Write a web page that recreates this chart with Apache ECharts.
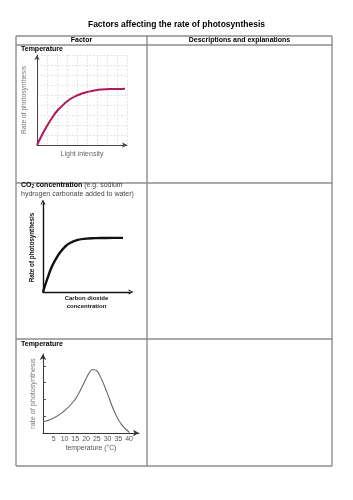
<!DOCTYPE html>
<html>
<head>
<meta charset="utf-8">
<script src="https://cdn.jsdelivr.net/npm/echarts@6/dist/echarts.min.js"></script>
<style>
  html, body { margin: 0; background: #fff; }
  #chart { width: 353px; height: 500px; }
</style>
</head>
<body>
<div id="chart"></div>
<script>
// light intensity panel (grid units, 9 cells each way)
const lightX = [0, 0.5, 1, 1.5, 2, 2.5, 3, 3.5, 4, 4.5, 5, 5.5, 6, 6.5, 7, 7.5, 8, 8.8];
const lightRate = [0, 1.0, 1.9, 2.7, 3.4, 3.9, 4.35, 4.7, 4.95, 5.15, 5.3, 5.4, 5.5, 5.55, 5.58, 5.6, 5.6, 5.62];

// CO2 panel
const co2X = [0, 0.5, 1, 1.5, 2, 2.5, 3, 4, 5, 6, 7, 8, 9.2];
const co2Rate = [0, 1.5, 2.8, 3.75, 4.5, 5.05, 5.45, 5.85, 6.0, 6.05, 6.07, 6.08, 6.08];

// temperature panel (x in °C)
const tempX = [0, 4.8, 9.5, 14.1, 17, 19.5, 21.5, 23.2, 25, 27, 29.6, 33.5, 36.6, 40.2];
const tempRate = [0.67, 0.88, 1.27, 1.86, 2.45, 3.1, 3.58, 3.78, 3.7, 3.25, 2.46, 1.17, 0.48, 0.03];
const tempTicks = [5, 10, 15, 20, 25, 30, 35, 40];
const tempYTicks = [1, 2, 3, 4];

const FONT = '"Liberation Sans", Arial, sans-serif';
const zip = (xs, ys) => xs.map((x, i) => [x, ys[i]]);

const chart = echarts.init(document.getElementById('chart'));

// table frame
const borderColor = '#8c8c8c';
function hline(y) {
  return { type: 'line', shape: { x1: 16, y1: y, x2: 332, y2: y }, style: { stroke: borderColor, lineWidth: 1.4 } };
}
function vline(x) {
  return { type: 'line', shape: { x1: x, y1: 36, x2: x, y2: 466 }, style: { stroke: borderColor, lineWidth: 1.4 } };
}
function label(text, x, y, opts) {
  return {
    type: 'text', x: x, y: y,
    style: Object.assign({
      text: text, fill: '#000', font: 'bold 7px ' + FONT,
      textAlign: 'left', textVerticalAlign: 'middle'
    }, opts || {})
  };
}

const chevron = 'path://M0,10 L5,0 L10,10 L8,10 L5,4 L2,10 Z';

chart.setOption({
  animation: false,
  graphic: [
    hline(36), hline(45), hline(183), hline(339), hline(466),
    vline(16), vline(147), vline(332),
    label('Factors affecting the rate of photosynthesis', 176.5, 25, { font: 'bold 8.5px ' + FONT, textAlign: 'center' }),
    label('Factor', 81.5, 40.5, { textAlign: 'center' }),
    label('Descriptions and explanations', 239.5, 40.5, { textAlign: 'center' }),
    label('Temperature', 21, 49.5),
    {
      type: 'text', x: 21, y: 185,
      style: {
        text: '{b|CO}{s|2}{b| concentration} (e.g. sodium',
        font: '7px ' + FONT, fill: '#444', textAlign: 'left', textVerticalAlign: 'middle',
        rich: {
          b: { font: 'bold 7px ' + FONT, fill: '#000' },
          s: { font: 'bold 4.5px ' + FONT, fill: '#000', padding: [3, 0, 0, 0] }
        }
      }
    },
    label('hydrogen carbonate added to water)', 21, 194.3, { font: '7px ' + FONT, fill: '#444' }),
    label('Temperature', 21, 344)
  ],
  grid: [
    { left: 37, top: 55, width: 90, height: 90, outerBoundsMode: 'none' },
    { left: 43, top: 203, width: 87, height: 89, outerBoundsMode: 'none' },
    { left: 43, top: 354, width: 96, height: 79, outerBoundsMode: 'none' }
  ],
  xAxis: [
    {
      gridIndex: 0, type: 'value', min: 0, max: 9, interval: 1,
      axisLine: { lineStyle: { color: '#444', width: 1 }, symbol: ['none', 'arrow'], symbolSize: [4, 5] },
      axisTick: { show: false }, axisLabel: { show: false },
      splitLine: { show: true, lineStyle: { color: '#dcdcdc', type: [2, 1.5], width: 0.8 } },
      name: 'Light intensity', nameLocation: 'middle', nameGap: 6,
      nameTextStyle: { fontFamily: FONT, fontSize: 7, color: '#666', verticalAlign: 'top' }
    },
    {
      gridIndex: 1, type: 'value', min: 0, max: 10,
      axisLine: { lineStyle: { color: '#111', width: 1.4 }, symbol: ['none', chevron], symbolSize: [8, 5], symbolOffset: [0, 1] },
      axisTick: { show: false }, axisLabel: { show: false }, splitLine: { show: false },
      name: 'Carbon dioxide\nconcentration', nameLocation: 'middle', nameGap: 3,
      nameTextStyle: { fontFamily: FONT, fontSize: 6, fontWeight: 'bold', color: '#111', lineHeight: 7.5, verticalAlign: 'top' }
    },
    {
      gridIndex: 2, type: 'value', min: 0, max: 44.6,
      axisLine: { lineStyle: { color: '#333', width: 1 }, symbol: ['none', 'arrow'], symbolSize: [5, 6] },
      axisTick: { show: false },
      axisLabel: { customValues: tempTicks, fontFamily: FONT, fontSize: 7, color: '#555', margin: 3 },
      splitLine: { show: false },
      name: 'temperature (°C)', nameLocation: 'middle', nameGap: 12,
      nameTextStyle: { fontFamily: FONT, fontSize: 6.8, color: '#555', verticalAlign: 'top' }
    }
  ],
  yAxis: [
    {
      gridIndex: 0, type: 'value', min: 0, max: 9, interval: 1,
      axisLine: { show: true, lineStyle: { color: '#444', width: 1 }, symbol: ['none', 'arrow'], symbolSize: [4, 5] },
      axisTick: { show: false }, axisLabel: { show: false },
      splitLine: { show: true, lineStyle: { color: '#dcdcdc', type: [2, 1.5], width: 0.8 } },
      name: 'Rate of photosynthesis', nameLocation: 'middle', nameGap: 9,
      nameTextStyle: { fontFamily: FONT, fontSize: 6.7, color: '#777' }
    },
    {
      gridIndex: 1, type: 'value', min: 0, max: 10,
      axisLine: { show: true, lineStyle: { color: '#111', width: 1.4 }, symbol: ['none', chevron], symbolSize: [8, 5], symbolOffset: [0, 1] },
      axisTick: { show: false }, axisLabel: { show: false }, splitLine: { show: false },
      name: 'Rate of photosynthesis', nameLocation: 'middle', nameGap: 8,
      nameTextStyle: { fontFamily: FONT, fontSize: 6.3, fontWeight: 'bold', color: '#111' }
    },
    {
      gridIndex: 2, type: 'value', min: 0, max: 4.7,
      axisLine: { show: true, lineStyle: { color: '#333', width: 1 }, symbol: ['none', 'arrow'], symbolSize: [5, 6] },
      axisTick: { show: true, inside: true, length: 3, customValues: tempYTicks, lineStyle: { color: '#555' } },
      axisLabel: { show: false }, splitLine: { show: false },
      name: 'rate of photosynthesis', nameLocation: 'middle', nameGap: 6,
      nameTextStyle: { fontFamily: FONT, fontSize: 7.2, color: '#777' }
    }
  ],
  series: [
    {
      type: 'line', xAxisIndex: 0, yAxisIndex: 0, smooth: true, showSymbol: false,
      lineStyle: { color: '#b0185c', width: 2 },
      data: zip(lightX, lightRate)
    },
    {
      type: 'line', xAxisIndex: 1, yAxisIndex: 1, smooth: true, showSymbol: false,
      lineStyle: { color: '#111', width: 2.4 },
      data: zip(co2X, co2Rate)
    },
    {
      type: 'line', xAxisIndex: 2, yAxisIndex: 2, smooth: true, showSymbol: false,
      lineStyle: { color: '#666', width: 1.1 },
      data: zip(tempX, tempRate)
    }
  ]
});
</script>
</body>
</html>
